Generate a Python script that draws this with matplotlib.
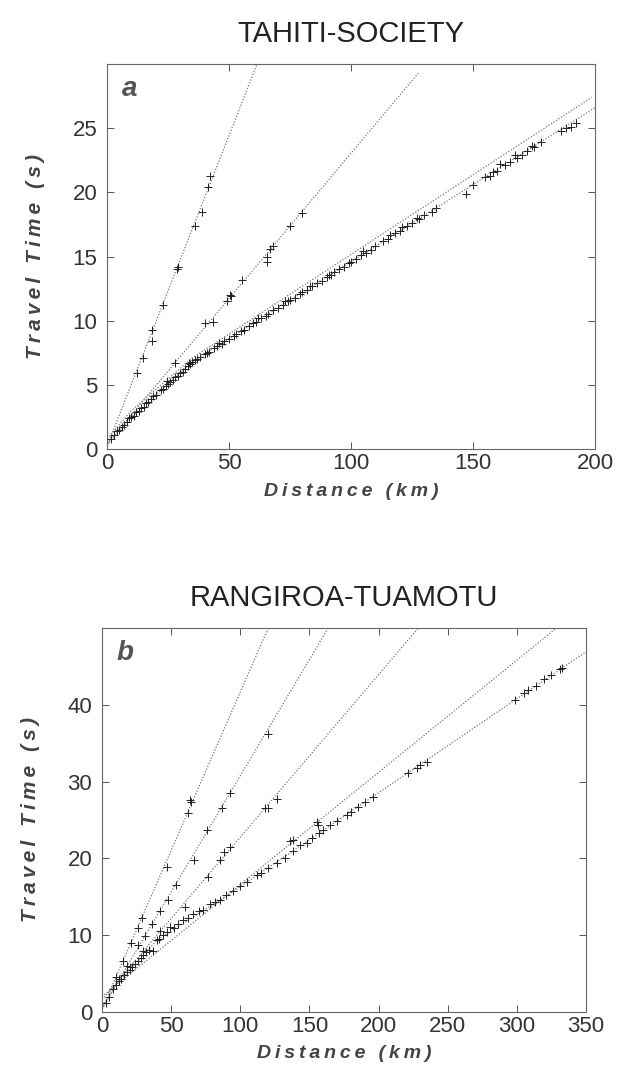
"""Travel-time vs distance panels: Tahiti-Society (a) and Rangiroa-Tuamotu (b)."""
import matplotlib
matplotlib.use("Agg")
import matplotlib.pyplot as plt

plt.rcParams.update(
    {
        "font.family": ["Liberation Sans", "DejaVu Sans"],
        "xtick.direction": "in",
        "ytick.direction": "in",
        "xtick.top": True,
        "ytick.right": True,
        "axes.linewidth": 0.8,
        "axes.edgecolor": "#666666",
    }
)

# ---------------- panel a : TAHITI-SOCIETY ----------------
A_XLIM = (0, 200)
A_YLIM = (0, 30)
A_XTICKS = [0, 50, 100, 150, 200]
A_YTICKS = [0, 5, 10, 15, 20, 25]

# fitted branches (distance km, time s)
a_line_steep_x = [0, 61.5]
a_line_steep_t = [0.2, 30.0]
a_line_mid_x = [0, 127.6]
a_line_mid_t = [0.4, 29.3]
a_line_low1_x = [0, 10, 35, 200]
a_line_low1_t = [0.3, 2.5, 6.8, 26.6]
a_line_low2_x = [0, 10, 35, 198.6]
a_line_low2_t = [0.8, 3.0, 7.1, 27.4]

# picks
a_steep_x = [12.2, 14.9, 18.3, 18.3, 23.1, 28.6, 29.0, 36.0, 38.8, 41.5, 42.2]
a_steep_t = [5.9, 7.1, 8.4, 9.3, 11.2, 14.0, 14.2, 17.4, 18.5, 20.4, 21.3]

a_mid_x = [27.9, 40.2, 43.6, 49.3, 50.4, 51.0, 55.2, 65.4, 65.4, 66.8, 68.0, 75.0, 79.8]
a_mid_t = [6.7, 9.8, 9.9, 11.5, 12.0, 11.9, 13.2, 14.6, 15.0, 15.6, 15.8, 17.4, 18.4]

a_main_x = [1.5, 3, 4, 5, 6, 7, 8, 9, 10, 11, 12, 13, 14, 15, 16, 17, 18, 19, 20,
            22, 23, 24, 25, 26, 27, 28, 29, 30, 31, 32, 33, 34, 35, 36, 37, 38,
            40, 41, 42, 44, 45, 47, 48, 50, 52, 53, 55, 56, 58, 60, 61, 63, 65,
            66, 68, 70, 72, 74, 75, 77, 79, 80, 82, 84, 86, 88, 90, 92, 93, 95,
            97, 99, 100, 102, 104, 106, 108, 110, 113, 115, 118, 120, 123, 125,
            128, 130, 133, 135, 147, 150, 155, 157, 158, 160, 163, 165, 168,
            170, 172, 175, 178, 186, 188, 190, 192,
            24.5, 33.5, 46, 62, 73, 83, 91, 105, 116, 121, 127, 161, 167, 174]
a_main_t = [0.8, 1.1, 1.4, 1.5, 1.7, 1.9, 2.1, 2.4, 2.5, 2.6, 2.9, 3.0, 3.2, 3.3,
            3.6, 3.7, 3.9, 4.1, 4.2, 4.6, 4.7, 4.9, 5.1, 5.2, 5.4, 5.6, 5.7, 5.9,
            6.0, 6.2, 6.5, 6.6, 6.8, 6.9, 7.0, 7.2, 7.4, 7.5, 7.6, 7.9, 8.0, 8.2,
            8.4, 8.6, 8.8, 9.0, 9.2, 9.3, 9.6, 9.8, 9.9, 10.2, 10.4, 10.5, 10.8,
            11.0, 11.2, 11.5, 11.6, 11.8, 12.1, 12.2, 12.4, 12.7, 12.9, 13.1,
            13.4, 13.6, 13.8, 14.0, 14.2, 14.5, 14.6, 14.8, 15.1, 15.3, 15.5,
            15.8, 16.2, 16.4, 16.8, 17.0, 17.4, 17.6, 17.9, 18.2, 18.5, 18.8,
            19.9, 20.6, 21.2, 21.3, 21.6, 21.7, 22.1, 22.4, 22.7, 22.9, 23.2,
            23.5, 23.9, 24.8, 25.0, 25.1, 25.4,
            5.3, 6.7, 8.3, 10.2, 11.5, 12.7, 13.6, 15.4, 16.7, 17.3, 18.0, 22.2,
            22.9, 23.6]

# ---------------- panel b : RANGIROA-TUAMOTU ----------------
B_XLIM = (0, 350)
B_YLIM = (0, 50)
B_XTICKS = [0, 50, 100, 150, 200, 250, 300, 350]
B_YTICKS = [0, 10, 20, 30, 40]

b_line1_x = [0, 120.2]
b_line1_t = [0.4, 50.0]
b_line2_x = [0, 163.6]
b_line2_t = [0.5, 50.0]
b_line3_x = [0, 228.7]
b_line3_t = [1.6, 50.0]
b_line4_x = [0, 328.7]
b_line4_t = [2.0, 50.0]
b_line5_x = [0, 10, 40, 95, 350]
b_line5_t = [0.3, 3.5, 9.4, 15.7, 46.9]

b_p1_x = [10, 15, 21, 26, 28.6, 46.8, 62.4, 63.6, 64.5]
b_p1_t = [4.6, 6.6, 9.0, 11.0, 12.2, 18.9, 25.9, 27.6, 27.3]

b_p2_x = [12, 18, 26.3, 31.1, 35.9, 41.9, 47.7, 53.8, 66.3, 75.6, 86.5, 92.5, 120.2]
b_p2_t = [4.3, 6.0, 8.7, 9.9, 11.5, 13.1, 14.6, 16.5, 19.8, 23.7, 26.5, 28.5, 36.2]

b_p3_x = [20, 30, 41.9, 60.0, 76.8, 85.3, 88.5, 92.5, 117.9, 120.2, 126.3]
b_p3_t = [5.9, 8.0, 10.5, 13.7, 17.6, 19.8, 20.8, 21.5, 26.5, 26.6, 27.7]

b_p4_x = [135.9, 138.0, 155.2, 156.0]
b_p4_t = [22.2, 22.4, 24.7, 24.3]

b_p5_x = [3, 5, 8, 10, 12, 14, 16, 18, 20, 22, 24, 26, 28, 30, 32, 34, 37.1,
          39.5, 41, 44, 47, 49.2, 52, 55, 58.8, 62, 66, 70, 73.2, 78, 82, 85.3,
          90, 94.9, 100, 105, 111.8, 115, 120, 126.3, 132, 138.4, 143.2, 148,
          152, 157.1, 160, 165, 170, 176.9, 180, 185, 190, 196.2, 221.5, 228,
          230, 234.8, 298.6, 305, 308, 314, 320, 325, 331, 333]
b_p5_t = [1.2, 2.0, 3.0, 3.5, 4.0, 4.3, 4.8, 5.2, 5.5, 5.9, 6.3, 6.6, 7.0, 7.4,
          7.8, 8.1, 7.9, 9.4, 9.5, 10.0, 10.4, 11.1, 11.0, 11.4, 12.0, 12.3,
          12.8, 13.2, 13.3, 14.1, 14.3, 14.6, 15.2, 15.7, 16.4, 16.9, 17.8,
          18.1, 18.7, 19.4, 20.1, 21.0, 21.7, 22.0, 22.7, 23.3, 23.7, 24.3,
          24.9, 25.7, 26.1, 26.7, 27.3, 28.0, 31.1, 31.8, 32.2, 32.6, 40.6,
          41.5, 41.9, 42.4, 43.3, 43.9, 44.7, 44.8]

LINE_COLOR = "#777777"
MARK_COLOR = "#222222"
TEXT_COLOR = "#333333"
LINE_STYLE = (0, (1, 1.4))


def spaced(s):
    return "\u2009".join(s)


def style_axes(ax, xlim, ylim, xticks, yticks):
    ax.set_xlim(*xlim)
    ax.set_ylim(*ylim)
    ax.set_xticks(xticks)
    ax.set_yticks(yticks)
    ax.tick_params(axis="both", length=5, width=0.7, color="#555555",
                   labelsize=16, labelcolor=TEXT_COLOR)
    ax.tick_params(axis="x", pad=3)
    ax.tick_params(axis="y", pad=7)
    ax.set_xlabel(spaced("Distance (km)"), fontsize=14, fontweight="bold",
                  fontstyle="italic", color="#444444", labelpad=6)
    ax.set_ylabel(spaced("Travel Time (s)"), fontsize=15, fontweight="bold",
                  fontstyle="italic", color="#444444", labelpad=20)


def picks(ax, x, t):
    ax.plot(x, t, linestyle="none", marker="+", markersize=6,
            markeredgewidth=0.7, color=MARK_COLOR, zorder=3)


def branch(ax, x, t):
    ax.plot(x, t, color=LINE_COLOR, lw=0.9, linestyle=LINE_STYLE, zorder=2)


fig = plt.figure(figsize=(6.17, 10.82), dpi=100)
ax_a = fig.add_axes([0.1734, 0.585, 0.791, 0.3558])
ax_b = fig.add_axes([0.1653, 0.0647, 0.7844, 0.3549])

for lx, lt in [(a_line_steep_x, a_line_steep_t), (a_line_mid_x, a_line_mid_t),
               (a_line_low1_x, a_line_low1_t), (a_line_low2_x, a_line_low2_t)]:
    branch(ax_a, lx, lt)
picks(ax_a, a_steep_x, a_steep_t)
picks(ax_a, a_mid_x, a_mid_t)
picks(ax_a, a_main_x, a_main_t)
style_axes(ax_a, A_XLIM, A_YLIM, A_XTICKS, A_YTICKS)
ax_a.text(0.03, 0.97, "a", transform=ax_a.transAxes, fontsize=20,
          fontweight="bold", fontstyle="italic", color="#555555",
          ha="left", va="top")
ax_a.set_title("TAHITI-SOCIETY", fontsize=21, color="#222222", pad=16)

for lx, lt in [(b_line1_x, b_line1_t), (b_line2_x, b_line2_t),
               (b_line3_x, b_line3_t), (b_line4_x, b_line4_t),
               (b_line5_x, b_line5_t)]:
    branch(ax_b, lx, lt)
for px, pt in [(b_p1_x, b_p1_t), (b_p2_x, b_p2_t), (b_p3_x, b_p3_t),
               (b_p4_x, b_p4_t), (b_p5_x, b_p5_t)]:
    picks(ax_b, px, pt)
style_axes(ax_b, B_XLIM, B_YLIM, B_XTICKS, B_YTICKS)
ax_b.text(0.03, 0.97, "b", transform=ax_b.transAxes, fontsize=20,
          fontweight="bold", fontstyle="italic", color="#555555",
          ha="left", va="top")
ax_b.set_title("RANGIROA-TUAMOTU", fontsize=21, color="#222222", pad=16)

fig.savefig("out.png", dpi=100)
